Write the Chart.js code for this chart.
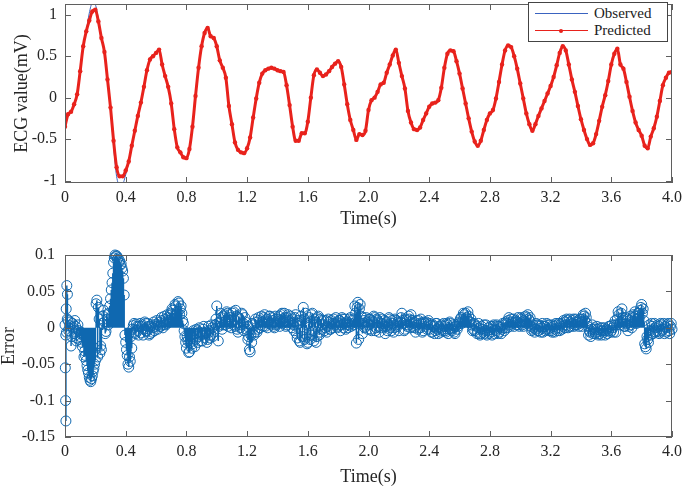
<!DOCTYPE html>
<html><head><meta charset="utf-8">
<script src="https://cdn.jsdelivr.net/npm/chart.js@4.4.1/dist/chart.umd.min.js"></script>
<style>
html,body{margin:0;padding:0;background:#fff;}
#wrap{position:relative;width:685px;height:487px;overflow:hidden;background:#fff;}
#c1{position:absolute;left:0;top:0;}
#c2{position:absolute;left:0;top:240px;}
#legend{position:absolute;left:528px;top:2px;width:138px;height:38px;border:1px solid #444;background:#fff;font-family:"Liberation Serif","Times New Roman",serif;font-size:15px;color:#222;}
.sample{position:absolute;left:6px;width:53px;height:1px;}
.dot{position:absolute;left:30px;width:4px;height:4px;border-radius:2px;background:#e8221c;}
.lbl{position:absolute;left:65px;white-space:nowrap;line-height:16px;height:16px;}
</style></head>
<body>
<div id="wrap">
<canvas id="c1" width="685" height="235"></canvas>
<canvas id="c2" width="685" height="247"></canvas>
<div id="legend">
  <div class="sample" style="top:10px;background:#3a63c0;"></div>
  <div class="lbl" style="top:2px;">Observed</div>
  <div class="sample" style="top:27px;background:#e8221c;"></div>
  <div class="dot" style="top:25.5px;"></div>
  <div class="lbl" style="top:19px;">Predicted</div>
</div>
</div>
<script>
// ---------- data ----------
const T_STEP = 0.02;          // sampling step of the ECG traces (s)
const E_STEP = 0.01;          // sampling step of the error trace (s)

const xTicks = [0, 0.4, 0.8, 1.2, 1.6, 2.0, 2.4, 2.8, 3.2, 3.6, 4.0];
const xTickLabels = ["0","0.4","0.8","1.2","1.6","2.0","2.4","2.8","3.2","3.6","4.0"];
const yTicksTop = [-1, -0.5, 0, 0.5, 1];
const yTickLabelsTop = ["-1","-0.5","0","0.5","1"];
const yTicksErr = [-0.15, -0.1, -0.05, 0, 0.05, 0.1];
const yTickLabelsErr = ["-0.15","-0.1","-0.05","0","0.05","0.1"];

const predicted = [
 -0.35,-0.20,-0.17,-0.08,0.04,0.32,0.62,0.80,0.93,1.04,
 1.06,0.92,0.72,0.55,0.22,-0.12,-0.52,-0.84,-0.95,-0.95,
 -0.88,-0.77,-0.58,-0.40,-0.22,-0.06,0.13,0.33,0.46,0.50,
 0.54,0.58,0.40,0.26,0.13,-0.07,-0.38,-0.60,-0.66,-0.72,
 -0.73,-0.62,-0.35,0.02,0.36,0.62,0.78,0.84,0.74,0.72,
 0.62,0.45,0.36,0.24,-0.10,-0.32,-0.54,-0.63,-0.66,-0.67,
 -0.61,-0.48,-0.24,-0.01,0.18,0.29,0.33,0.35,0.36,0.35,
 0.33,0.32,0.31,0.15,-0.09,-0.35,-0.52,-0.52,-0.43,-0.43,
 -0.29,0.00,0.27,0.34,0.30,0.26,0.28,0.32,0.37,0.41,
 0.44,0.37,0.16,-0.08,-0.27,-0.39,-0.51,-0.44,-0.45,-0.40,
 -0.15,-0.03,0.00,0.07,0.16,0.18,0.30,0.40,0.51,0.58,
 0.42,0.26,0.11,-0.16,-0.30,-0.38,-0.39,-0.36,-0.27,-0.19,
 -0.11,-0.07,-0.06,-0.03,0.12,0.36,0.53,0.57,0.56,0.44,
 0.29,0.11,-0.07,-0.25,-0.41,-0.53,-0.58,-0.52,-0.39,-0.27,
 -0.19,-0.15,-0.01,0.19,0.40,0.57,0.63,0.61,0.50,0.35,
 0.17,-0.01,-0.19,-0.32,-0.40,-0.32,-0.22,-0.13,-0.04,0.05,
 0.14,0.25,0.39,0.54,0.62,0.57,0.40,0.22,0.07,-0.10,
 -0.26,-0.39,-0.50,-0.57,-0.55,-0.44,-0.28,-0.11,0.03,0.20,
 0.40,0.53,0.59,0.40,0.35,0.19,0.01,-0.16,-0.30,-0.39,
 -0.46,-0.58,-0.61,-0.47,-0.37,-0.23,-0.04,0.15,0.24,0.30,
 0.31
];

const observed = [
 -0.35,-0.20,-0.17,-0.08,0.04,0.32,0.62,0.80,1.02,1.14,
 1.12,0.95,0.72,0.55,0.22,-0.12,-0.58,-0.95,-1.05,-1.04,
 -0.93,-0.77,-0.58,-0.40,-0.22,-0.06,0.13,0.33,0.46,0.50,
 0.54,0.58,0.40,0.26,0.13,-0.07,-0.38,-0.60,-0.66,-0.72,
 -0.73,-0.62,-0.35,0.02,0.36,0.62,0.78,0.84,0.74,0.72,
 0.62,0.45,0.36,0.24,-0.10,-0.32,-0.54,-0.63,-0.66,-0.67,
 -0.61,-0.48,-0.24,-0.01,0.18,0.29,0.33,0.35,0.36,0.35,
 0.33,0.32,0.31,0.15,-0.09,-0.35,-0.52,-0.52,-0.43,-0.43,
 -0.29,0.00,0.27,0.34,0.30,0.26,0.28,0.32,0.37,0.41,
 0.44,0.37,0.16,-0.08,-0.27,-0.39,-0.51,-0.44,-0.45,-0.40,
 -0.15,-0.03,0.00,0.07,0.16,0.18,0.30,0.40,0.51,0.58,
 0.42,0.26,0.11,-0.16,-0.30,-0.38,-0.39,-0.36,-0.27,-0.19,
 -0.11,-0.07,-0.06,-0.03,0.12,0.36,0.53,0.57,0.56,0.44,
 0.29,0.11,-0.07,-0.25,-0.41,-0.53,-0.58,-0.52,-0.39,-0.27,
 -0.19,-0.15,-0.01,0.19,0.40,0.57,0.63,0.61,0.50,0.35,
 0.17,-0.01,-0.19,-0.32,-0.40,-0.32,-0.22,-0.13,-0.04,0.05,
 0.14,0.25,0.39,0.54,0.62,0.57,0.40,0.22,0.07,-0.10,
 -0.26,-0.39,-0.50,-0.57,-0.55,-0.44,-0.28,-0.11,0.03,0.20,
 0.40,0.53,0.59,0.40,0.35,0.19,0.01,-0.16,-0.30,-0.39,
 -0.46,-0.58,-0.61,-0.47,-0.37,-0.23,-0.04,0.15,0.24,0.30,
 0.31
];

// first few error samples (dense, at the very start)
const errEarlyT = [0.002, 0.004, 0.006, 0.008, 0.012, 0.016];
const errEarlyV = [-0.055, -0.100, -0.128, 0.026, 0.058, 0.046];

// error (predicted - observed), one value every 0.01 s from 0.00 to 4.00
const errorVals = [
 0.004,-0.006,0.010,0.003,-0.025,0.006,-0.008,0.002,-0.014,-0.004,
 -0.012,-0.020,-0.010,-0.032,-0.045,-0.058,-0.068,-0.074,-0.066,-0.056,
 -0.045,0.038,0.028,-0.035,-0.030,0.016,0.008,-0.005,0.012,0.020,
 0.040,0.062,0.090,0.100,0.099,0.096,0.092,0.088,0.078,0.045,
 -0.020,-0.038,-0.054,-0.046,-0.028,0.003,-0.006,0.005,-0.004,0.002,
 -0.007,0.004,-0.002,0.006,-0.005,0.002,-0.008,0.004,0.000,-0.004,
 0.005,-0.002,0.008,0.002,0.010,0.004,0.012,0.006,0.014,0.010,
 0.018,0.024,0.016,0.030,0.022,0.034,0.026,0.020,0.006,-0.012,
 -0.028,-0.018,-0.033,-0.010,-0.022,-0.008,-0.016,-0.004,-0.012,-0.006,
 -0.010,-0.002,-0.014,-0.006,-0.016,-0.004,-0.010,0.000,-0.006,0.004,
 0.030,-0.018,0.008,0.014,0.004,0.018,0.010,0.020,0.006,0.014,
 0.010,0.022,0.002,0.016,-0.006,0.012,0.004,0.018,-0.004,0.008,
 0.002,-0.012,-0.033,-0.020,0.004,-0.006,0.008,-0.002,0.010,0.004,
 0.008,0.014,0.002,0.012,0.006,0.016,0.004,0.010,0.000,0.012,
 0.006,0.016,0.010,0.020,0.008,0.014,0.004,0.018,0.010,0.006,
 0.012,-0.004,0.018,-0.014,0.006,-0.020,0.010,0.028,-0.016,0.004,
 -0.020,0.014,-0.010,0.020,-0.018,0.008,-0.012,0.016,-0.006,0.010,
 0.004,-0.004,0.010,0.002,0.008,-0.002,0.006,0.012,0.004,0.008,
 0.002,0.010,0.004,0.012,0.006,-0.002,0.008,0.004,0.014,0.006,
 0.012,0.030,-0.021,0.035,0.026,0.016,-0.008,0.010,0.002,0.008,
 0.004,0.012,-0.004,0.008,0.014,0.000,0.010,-0.006,0.006,0.012,
 0.002,-0.008,0.008,0.004,0.012,-0.004,0.006,0.000,0.010,0.002,
 -0.004,0.008,0.020,0.006,-0.002,0.010,0.004,0.012,0.018,0.002,
 0.008,-0.006,0.004,0.010,0.000,0.006,-0.004,0.002,0.008,0.004,
 -0.002,0.004,-0.006,0.002,-0.004,0.006,-0.008,0.000,0.004,-0.004,
 0.002,-0.006,0.004,-0.002,0.006,-0.004,0.000,-0.008,0.004,0.002,
 0.006,0.014,0.010,0.018,0.020,0.012,0.016,0.008,0.004,-0.002,
 -0.004,0.002,-0.006,0.000,-0.008,-0.002,0.004,-0.004,-0.010,0.000,
 -0.006,-0.002,0.002,-0.008,-0.004,0.002,-0.006,0.000,-0.002,0.004,
 0.000,0.006,0.010,0.004,0.012,0.006,0.002,0.010,0.008,0.004,
 0.006,0.012,0.002,0.008,0.014,0.018,0.010,0.002,-0.002,0.000,
 -0.002,0.004,-0.004,0.002,0.000,-0.006,0.002,-0.002,0.004,-0.004,
 0.000,-0.006,0.002,-0.002,0.004,0.000,-0.004,0.006,0.002,0.008,
 0.004,0.010,0.002,0.008,0.006,0.012,0.004,0.008,0.010,0.006,
 0.008,0.012,0.016,0.020,0.006,-0.010,-0.006,-0.002,-0.008,0.000,
 -0.006,-0.002,-0.008,-0.004,0.000,-0.006,-0.010,-0.002,-0.004,0.002,
 -0.004,0.000,0.004,-0.006,0.012,0.018,0.008,0.026,0.010,0.002,
 0.006,-0.004,0.010,0.004,0.014,0.008,0.016,0.012,0.020,0.024,
 0.032,0.026,-0.022,-0.029,-0.016,0.004,-0.010,0.002,-0.006,0.000,
 -0.004,0.002,-0.006,0.004,-0.002,-0.008,0.000,0.004,-0.004,0.002,
 -0.002
];

// error samples in between (at 0.005, 0.015, ... 3.995 s)
const errorValsMid = [
 -0.010,0.012,-0.004,0.008,-0.012,0.000,0.010,-0.018,0.004,-0.016,
 -0.006,-0.026,-0.040,-0.038,-0.052,-0.062,-0.072,-0.070,-0.060,-0.050,
 0.033,-0.040,0.012,-0.025,0.006,0.024,-0.008,0.018,0.004,0.030,
 0.052,0.075,0.096,0.098,0.094,0.090,0.086,0.082,0.068,-0.010,
 -0.030,-0.050,-0.040,-0.012,-0.002,0.006,-0.008,0.002,-0.010,0.006,
 0.002,-0.010,0.008,-0.004,0.006,-0.010,0.002,-0.006,0.008,0.002,
 0.010,0.004,0.002,0.014,0.000,0.016,0.004,0.018,0.008,0.020,
 0.026,0.012,0.032,0.014,0.036,0.018,0.030,0.010,-0.004,-0.020,
 -0.012,-0.034,-0.020,-0.028,-0.004,-0.026,-0.002,-0.020,0.000,-0.018,
 -0.018,0.002,-0.008,-0.020,0.002,-0.014,0.004,-0.012,-0.002,0.012,
 0.006,0.002,0.020,-0.002,0.016,0.004,0.022,0.002,0.018,0.000,
 0.020,0.004,0.024,-0.002,0.014,0.000,0.020,0.006,0.014,-0.002,
 -0.016,-0.030,-0.010,0.006,-0.010,0.012,-0.006,0.014,0.000,0.016,
 0.002,0.018,0.008,0.000,0.016,0.006,0.014,0.002,0.016,0.004,
 0.012,0.002,0.018,0.006,0.020,0.002,0.014,0.008,0.016,0.000,
 0.004,0.014,-0.008,0.010,-0.018,0.016,-0.012,0.012,0.020,-0.022,
 0.006,-0.016,0.018,-0.004,0.012,-0.020,0.014,-0.010,0.012,-0.002,
 0.010,0.000,-0.006,0.012,-0.002,0.010,0.000,0.006,0.014,0.000,
 0.010,-0.004,0.014,0.000,0.012,0.004,0.000,0.012,0.002,0.010,
 0.004,0.020,0.028,-0.016,0.032,0.006,0.014,0.000,0.014,-0.002,
 0.012,-0.002,0.010,0.016,-0.004,0.012,0.002,0.014,0.000,0.006,
 0.010,0.002,-0.004,0.014,0.000,0.010,-0.006,0.012,0.004,0.008,
 0.006,0.014,0.010,-0.004,0.012,0.002,0.016,0.000,0.010,0.006,
 0.000,0.010,-0.002,0.006,0.012,-0.006,0.008,0.006,-0.002,0.010,
 0.006,-0.006,0.004,-0.008,0.006,-0.002,0.002,-0.006,-0.002,0.006,
 -0.004,0.006,-0.008,0.008,-0.002,0.004,-0.006,0.002,-0.002,0.008,
 0.012,0.006,0.020,0.010,0.014,0.022,0.008,0.012,-0.004,0.006,
 0.004,-0.008,0.006,-0.010,0.002,-0.006,-0.008,0.004,-0.004,-0.008,
 0.002,-0.010,0.004,-0.002,0.004,-0.008,0.002,-0.008,0.006,-0.004,
 0.008,0.000,0.014,0.002,0.008,0.012,0.008,0.004,0.014,0.002,
 0.014,0.004,0.010,0.016,0.006,0.012,0.014,-0.004,0.004,-0.006,
 0.006,-0.004,0.004,-0.006,0.006,0.002,-0.004,0.006,-0.002,0.004,
 -0.004,0.004,-0.006,0.006,-0.004,0.006,0.004,-0.002,0.010,0.000,
 0.012,0.000,0.012,0.002,0.010,0.002,0.012,0.004,0.002,0.012,
 0.002,0.018,0.010,0.014,0.002,-0.004,-0.012,0.004,-0.002,-0.008,
 0.002,-0.010,0.000,-0.010,-0.004,0.000,-0.004,-0.008,0.002,-0.006,
 0.004,-0.006,0.010,0.004,0.022,0.004,0.020,0.014,0.002,0.014,
 0.012,0.002,0.016,0.000,0.018,0.022,0.006,0.020,0.014,0.028,
 0.020,0.010,-0.026,-0.012,-0.020,-0.004,0.006,-0.008,0.006,-0.006,
 0.004,-0.008,0.006,-0.004,0.006,0.002,-0.006,0.006,-0.008,0.006
];

// ---------- build ----------
const FONT = "'Liberation Serif','Times New Roman',serif";
const TXT = '#262626';
const BLUE = '#0f68b0';
const RED = '#e8221c';

const tracePts = arr => arr.map((v, i) => ({x: Math.round(i * T_STEP * 1000) / 1000, y: v}));
const errPts = errEarlyT.map((t, i) => ({x: t, y: errEarlyV[i]}))
  .concat(errorVals.map((v, i) => ({x: Math.round(i * E_STEP * 1000) / 1000, y: v})))
  .concat(errorValsMid.map((v, i) => ({x: Math.round((i * E_STEP + E_STEP / 2) * 1000) / 1000, y: v})));
const stemPts = [];
errPts.forEach(p => { stemPts.push({x: p.x, y: 0}, {x: p.x, y: p.y}, {x: p.x, y: null}); });

const boxPlugin = {
  id: 'matlabBox',
  afterDraw(chart) {
    const {ctx, chartArea: a, scales} = chart;
    ctx.save();
    ctx.strokeStyle = '#5f5f5f';
    ctx.lineWidth = 1;
    ctx.strokeRect(a.left + 0.5, a.top + 0.5, a.right - a.left - 1, a.bottom - a.top - 1);
    ctx.beginPath();
    scales.x.ticks.forEach(t => {
      const x = Math.round(scales.x.getPixelForValue(t.value)) + 0.5;
      ctx.moveTo(x, a.bottom); ctx.lineTo(x, a.bottom - 6);
      ctx.moveTo(x, a.top); ctx.lineTo(x, a.top + 6);
    });
    scales.y.ticks.forEach(t => {
      const y = Math.round(scales.y.getPixelForValue(t.value)) + 0.5;
      ctx.moveTo(a.left, y); ctx.lineTo(a.left + 6, y);
      ctx.moveTo(a.right, y); ctx.lineTo(a.right - 6, y);
    });
    ctx.stroke();
    ctx.restore();
  }
};

function xScale(height, titlePadBottom) {
  return {
    type: 'linear', min: 0, max: 4,
    afterBuildTicks: s => { s.ticks = xTicks.map(v => ({value: v})); },
    ticks: {callback: (v, i) => xTickLabels[i], font: {family: FONT, size: 16}, color: TXT,
            padding: 5, maxRotation: 0, autoSkip: false},
    grid: {display: false, drawTicks: false},
    border: {display: false},
    title: {display: true, text: 'Time(s)', color: TXT, font: {family: FONT, size: 18, lineHeight: 1},
            padding: {top: 0, bottom: titlePadBottom}},
    afterFit: s => { s.height = height; s.paddingLeft = 0; s.paddingRight = 0; }
  };
}
function yScale(min, max, ticks, labels, title, titlePad, tickPad) {
  return {
    type: 'linear', min: min, max: max,
    afterBuildTicks: s => { s.ticks = ticks.map(v => ({value: v})); },
    ticks: {callback: (v, i) => labels[i], font: {family: FONT, size: 16}, color: TXT, padding: tickPad, autoSkip: false},
    grid: {display: false, drawTicks: false},
    border: {display: false},
    title: {display: true, text: title, color: TXT, font: {family: FONT, size: 18, lineHeight: 1},
            padding: {top: titlePad, bottom: 0}},
    afterFit: s => { s.width = 65; s.paddingTop = 0; s.paddingBottom = 0; }
  };
}

const common = {
  responsive: false, animation: false, devicePixelRatio: 1, events: [],
  plugins: {legend: {display: false}, tooltip: {enabled: false}}
};

new Chart(document.getElementById('c1'), {
  type: 'line',
  data: {datasets: [
    {label: 'Predicted', data: tracePts(predicted), borderColor: RED, backgroundColor: RED,
     borderWidth: 3, pointRadius: 2.2, pointBorderWidth: 0, pointBackgroundColor: RED, order: 0,
     tension: 0.25, cubicInterpolationMode: 'monotone'},
    {label: 'Observed', data: tracePts(observed), borderColor: '#3a63c0', borderWidth: 1,
     pointRadius: 0, order: 1, tension: 0.25, cubicInterpolationMode: 'monotone'}
  ]},
  options: Object.assign({}, common, {
    layout: {padding: {left: 0, right: 13, top: 2, bottom: 0}},
    scales: {
      x: xScale(52, 7),
      y: yScale(-1.03, 1.13, yTicksTop, yTickLabelsTop, 'ECG value(mV)', 13, 8)
    }
  }),
  plugins: [boxPlugin]
});

new Chart(document.getElementById('c2'), {
  type: 'line',
  data: {datasets: [
    {label: 'Error', data: errPts, showLine: false, pointRadius: 5, pointBorderWidth: 1,
     pointBackgroundColor: 'rgba(0,0,0,0)', pointBorderColor: BLUE, clip: false, order: 0},
    {label: 'stem', data: stemPts, borderColor: BLUE, borderWidth: 1.5, pointRadius: 0,
     spanGaps: false, order: 1}
  ]},
  options: Object.assign({}, common, {
    layout: {padding: {left: 0, right: 13, top: 15, bottom: 0}},
    scales: {
      x: xScale(50, 1),
      y: yScale(-0.15, 0.1, yTicksErr, yTickLabelsErr, 'Error', 0, 10)
    }
  }),
  plugins: [boxPlugin]
});
</script>
</body></html>
